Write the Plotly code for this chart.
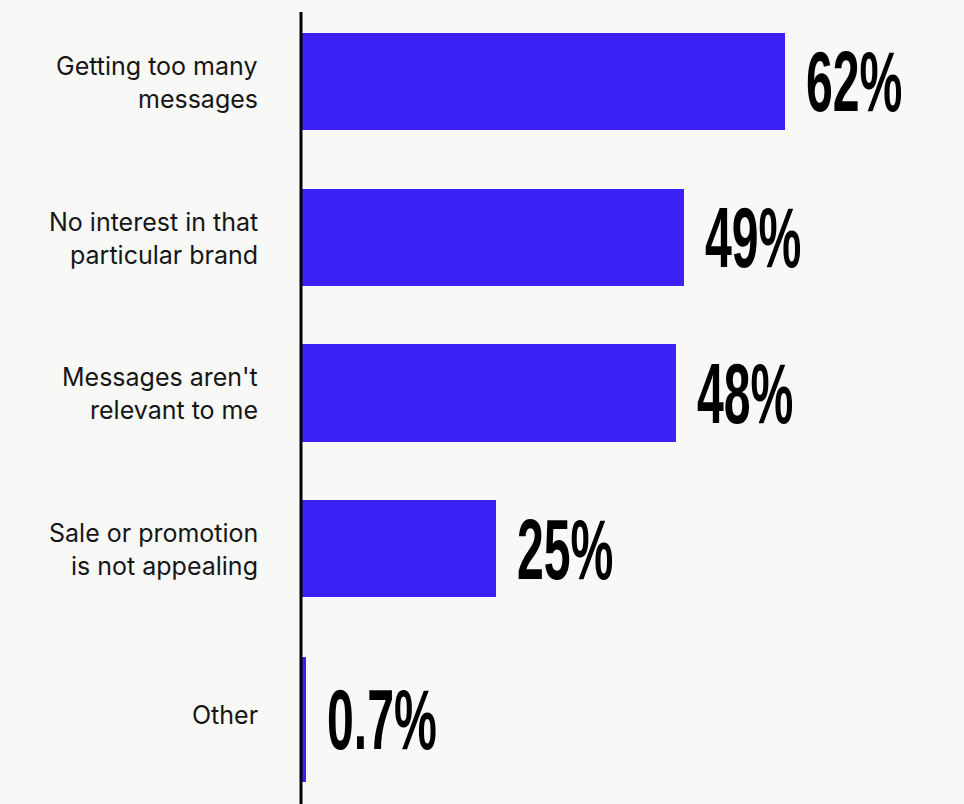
import plotly.graph_objects as go

# Survey reasons for unsubscribing, share of respondents (%)
categories = [
    "Getting too many<br>messages",
    "No interest in that<br>particular brand",
    "Messages aren't<br>relevant to me",
    "Sale or promotion<br>is not appealing",
    "Other",
]
values = [62, 49, 48, 25, 0.7]
value_labels = ["62%", "49%", "48%", "25%", "0.7%"]

# bar geometry (category units)
bar_widths = [0.625, 0.625, 0.625, 0.625, 0.80]
bar_offsets = [-0.3125, -0.3125, -0.3125, -0.3125, -0.305]

BLUE = "#3b21f4"
BG = "#f8f8f7"
LABEL_FONT = "Inter, Roboto, Liberation Sans, sans-serif"
VALUE_FONT = "Liberation Sans, Arial, sans-serif"

positions = list(range(len(categories)))

fig = go.Figure(
    go.Bar(
        x=values,
        y=positions,
        orientation="h",
        width=bar_widths,
        offset=bar_offsets,
        marker=dict(color=BLUE, line=dict(width=0)),
        hoverinfo="skip",
    )
)

annotations = []
for i, (cat, val, lab) in enumerate(zip(categories, values, value_labels)):
    center = positions[i] + bar_offsets[i] + bar_widths[i] / 2
    # value label to the right of the bar end
    annotations.append(dict(
        x=val, y=center, xref="x", yref="y",
        text=lab, showarrow=False, xanchor="left", yanchor="middle",
        xshift=19, yshift=0,
        font=dict(family=VALUE_FONT, size=86, color="#000000", weight="bold"),
    ))
    # category label, one annotation per line for wider line spacing
    lines = cat.split("<br>")
    n = len(lines)
    spacing = 33
    for k, line in enumerate(lines):
        shift = -((k - (n - 1) / 2) * spacing) - 1
        if n == 1:
            shift = 4
        annotations.append(dict(
            x=0, y=center, xref="paper", yref="y",
            text=line, showarrow=False, xanchor="right", yanchor="middle",
            xshift=-41, yshift=shift,
            font=dict(family=LABEL_FONT, size=25, color="#161616"),
        ))

# vertical baseline at zero
shapes = [dict(
    type="line", xref="paper", yref="paper",
    x0=0, x1=0, y0=0, y1=1 - 12 / 804,
    line=dict(color="#000000", width=3),
    layer="above",
)]

fig.update_layout(
    width=964, height=804,
    margin=dict(l=301, r=38, t=0, b=0),
    paper_bgcolor=BG, plot_bgcolor=BG,
    showlegend=False,
    bargap=0,
    xaxis=dict(range=[0, 80], visible=False, fixedrange=True),
    yaxis=dict(range=[4.639, -0.523], visible=False, fixedrange=True),
    annotations=annotations,
    shapes=shapes,
)

# compress the large value figures horizontally (condensed display style)
post = """
var gd = document.getElementById('{plot_id}');
function squeeze() {
  var texts = gd.querySelectorAll('.annotation-text');
  texts.forEach(function (t) {
    if (t.textContent.trim().slice(-1) === '%') {
      t.style.transformBox = 'fill-box';
      t.style.transformOrigin = 'left center';
      t.style.transform = 'scaleX(0.56)';
    }
  });
}
squeeze();
gd.on('plotly_afterplot', squeeze);
"""

fig.write_html("out.html", post_script=post, config={"displayModeBar": False})
